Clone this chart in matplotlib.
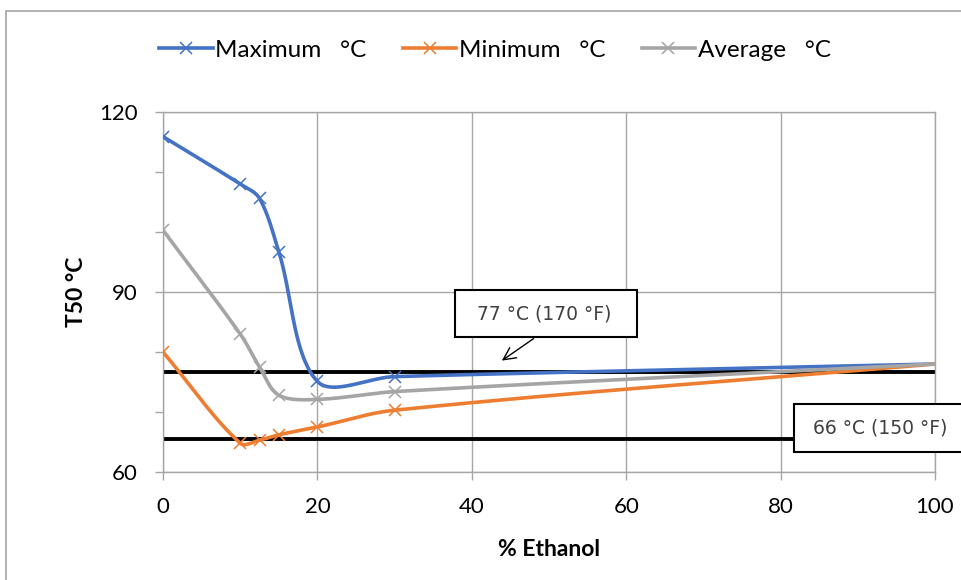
import numpy as np
import matplotlib.pyplot as plt
from matplotlib.lines import Line2D
from matplotlib.patches import Rectangle

plt.rcParams['font.family'] = ['Lato', 'DejaVu Sans']

# data
ethanol = [0, 10, 12.5, 15, 20, 30, 100]
t_max = [115.9, 108.0, 105.6, 96.7, 75.1, 75.9, 78.0]
t_min = [80.0, 64.8, 65.3, 66.2, 67.5, 70.3, 78.0]
t_avg = [100.3, 83.0, 77.5, 72.8, 72.1, 73.4, 78.0]
limits_c = [(170 - 32) * 5 / 9, (150 - 32) * 5 / 9]
limit_labels = ['77 °C (170 °F)', '66 °C (150 °F)']
series_names = ['Maximum   °C', 'Minimum   °C', 'Average   °C']
colors = ['#4472C4', '#ED7D31', '#A5A5A5']


# Excel-like smoothed line (bezier through the points)
def smooth(xs, ys, sx=7.72, sy=6.0, n=40):
    P = np.column_stack([xs, ys]).astype(float)
    S = np.array([sx, sy])
    out = [P[:1]]
    for i in range(len(P) - 1):
        p0 = P[i - 1] if i > 0 else P[i]
        p1, p2 = P[i], P[i + 1]
        p3 = P[i + 2] if i + 2 < len(P) else P[i + 1]
        d01 = np.linalg.norm((p1 - p0) * S)
        d12 = np.linalg.norm((p2 - p1) * S)
        d23 = np.linalg.norm((p3 - p2) * S)
        c1 = p1 + (p2 - p0) * d12 / (d01 + d12) / 3
        c2 = p2 - (p3 - p1) * d12 / (d12 + d23) / 3
        t = np.linspace(0, 1, n)[1:, None]
        seg = ((1 - t) ** 3 * p1 + 3 * (1 - t) ** 2 * t * c1
               + 3 * (1 - t) * t ** 2 * c2 + t ** 3 * p2)
        out.append(seg)
    out = np.vstack(out)
    return out[:, 0], out[:, 1]


fig = plt.figure(figsize=(9.61, 5.80), dpi=100)
ax = fig.add_axes([163 / 961, 1 - 472 / 580, (935 - 163) / 961, (472 - 112) / 580])

# outer chart border
fig.patches.append(Rectangle((6 / 961, -0.1), 1.2, 1.1 - 11 / 580,
                             transform=fig.transFigure, fill=False,
                             edgecolor='#a6a6a6', linewidth=1.2))

for y in limits_c:
    ax.plot([0, 100], [y, y], color='black', linewidth=2.8, zorder=2,
            solid_capstyle='butt')

handles = []
for ys, c, name in zip([t_max, t_min, t_avg], colors, series_names):
    sxs, sys_ = smooth(ethanol, ys)
    ax.plot(sxs, sys_, color=c, linewidth=2.6, zorder=3, solid_capstyle='round')
    ax.plot(ethanol[:-1], ys[:-1], linestyle='none', marker='x', markersize=9,
            markeredgewidth=1.1, color=c, zorder=4)
    handles.append(Line2D([], [], color=c, linewidth=2.6, marker='x',
                          markersize=9, markeredgewidth=1.1, label=name))

ax.set_xlim(0, 100)
ax.set_ylim(60, 120)
ax.set_xticks(range(0, 101, 20))
ax.set_yticks([60, 90, 120])
ax.set_yticks(range(60, 121, 10), minor=True)
ax.grid(True, color='#a6a6a6', linewidth=1)
for s in ax.spines.values():
    s.set_color('#a6a6a6')
    s.set_linewidth(1)
ax.tick_params(axis='both', which='both', color='#a6a6a6', length=6, width=1,
               labelsize=16, pad=12)
ax.tick_params(axis='x', which='minor', length=0)

ax.set_xlabel('% Ethanol', fontsize=16.5, fontweight='bold', labelpad=16)
ax.set_ylabel('T50 °C', fontsize=16.5, fontweight='bold', labelpad=9)

# callout boxes
ax.add_patch(Rectangle((37.8, 82.5), 23.6, 7.83, facecolor='white',
                       edgecolor='black', linewidth=1.5, zorder=5, clip_on=False))
ax.text(49.4, 86.4, limit_labels[0], ha='center', va='center', fontsize=13.5,
        family='DejaVu Sans', color='#404040', zorder=6)
ax.annotate('', xy=(43.6, 78.3), xytext=(48.3, 82.5),
            arrowprops=dict(arrowstyle='->', color='black', linewidth=1,
                            mutation_scale=22), zorder=6)
ax.add_patch(Rectangle((81.7, 63.33), 30, 8.0, facecolor='white',
                       edgecolor='black', linewidth=1.5, zorder=5, clip_on=False))
ax.text(92.9, 67.3, limit_labels[1], ha='center', va='center', fontsize=13.5,
        family='DejaVu Sans', color='#404040', zorder=6)

fig.legend(handles=handles, loc='center', bbox_to_anchor=(0.515, 1 - 50 / 580),
           ncol=3, frameon=False, fontsize=17.5, handlelength=2.2,
           handletextpad=0.1, columnspacing=1.5)

plt.savefig('out.png')
